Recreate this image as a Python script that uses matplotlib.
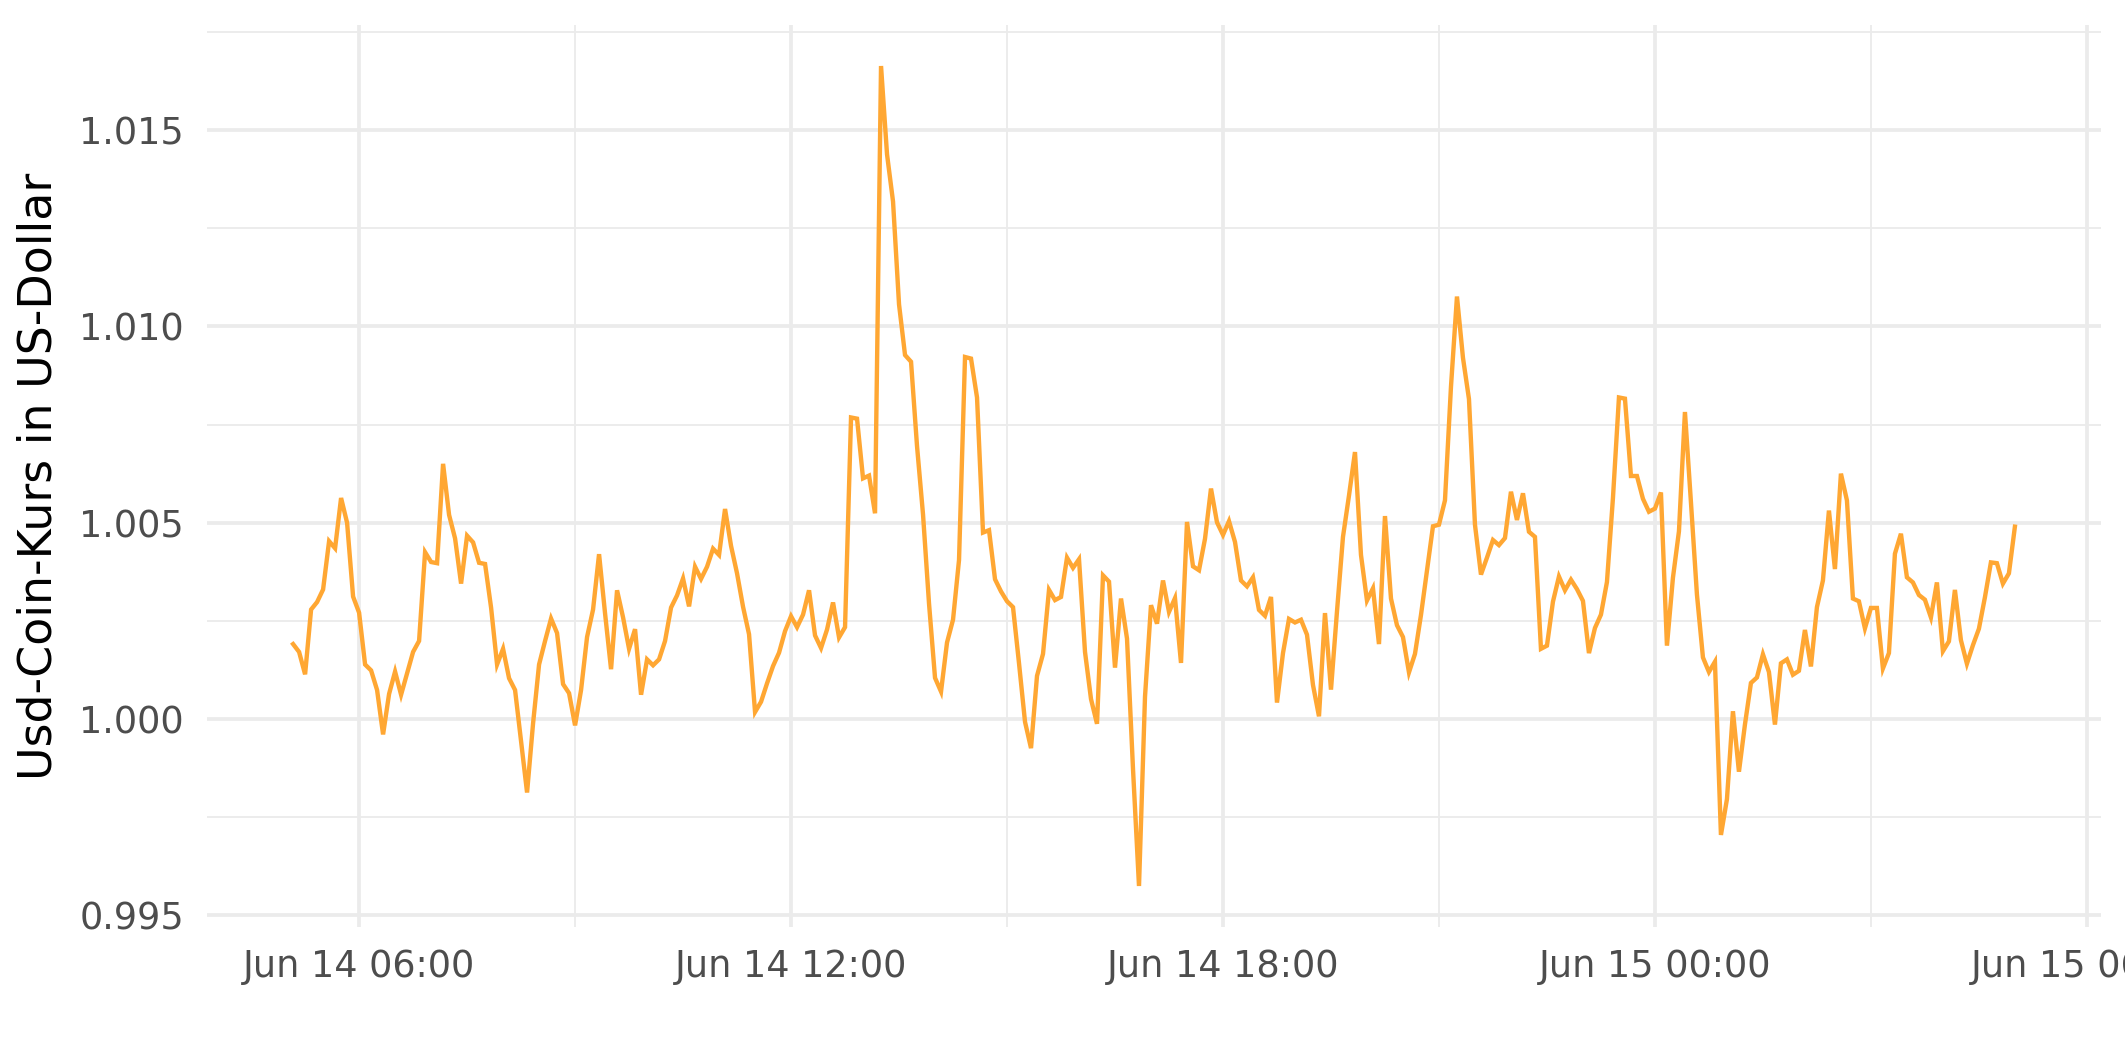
import pandas as pd
import matplotlib
matplotlib.use("Agg")
import matplotlib.pyplot as plt
import matplotlib.dates as mdates

# Zeitraum: 5-Minuten-Werte ab 14. Juni 05:05
start_zeit = "2022-06-14 05:05"
intervall = "5min"

# USD-Coin-Kurs in US-Dollar
usdc_kurs = [
    1.00191, 1.00171, 1.00114, 1.00279, 1.00298, 1.00330, 1.00453, 1.00435, 1.00563, 1.00500,
    1.00312, 1.00271, 1.00139, 1.00124, 1.00074, 0.99961, 1.00064, 1.00121, 1.00062, 1.00117,
    1.00171, 1.00199, 1.00425, 1.00400, 1.00397, 1.00650, 1.00520, 1.00460, 1.00345, 1.00467,
    1.00450, 1.00398, 1.00395, 1.00284, 1.00139, 1.00179, 1.00104, 1.00074, 0.99944, 0.99813,
    0.99989, 1.00139, 1.00199, 1.00256, 1.00219, 1.00089, 1.00066, 0.99984, 1.00074, 1.00209,
    1.00279, 1.00420, 1.00269, 1.00127, 1.00328, 1.00259, 1.00179, 1.00229, 1.00062, 1.00152,
    1.00137, 1.00152, 1.00199, 1.00284, 1.00315, 1.00358, 1.00287, 1.00388, 1.00357, 1.00388,
    1.00434, 1.00418, 1.00535, 1.00441, 1.00371, 1.00286, 1.00216, 1.00018, 1.00044, 1.00091,
    1.00135, 1.00169, 1.00224, 1.00262, 1.00234, 1.00266, 1.00328, 1.00213, 1.00181, 1.00228,
    1.00297, 1.00208, 1.00234, 1.00768, 1.00765, 1.00613, 1.00620, 1.00524, 1.01663, 1.01438,
    1.01318, 1.01056, 1.00927, 1.00910, 1.00695, 1.00521, 1.00294, 1.00105, 1.00070, 1.00195,
    1.00253, 1.00405, 1.00922, 1.00918, 1.00819, 1.00475, 1.00481, 1.00356, 1.00325, 1.00300,
    1.00285, 1.00142, 0.99993, 0.99926, 1.00110, 1.00166, 1.00329, 1.00303, 1.00311, 1.00411,
    1.00385, 1.00407, 1.00171, 1.00051, 0.99988, 1.00366, 1.00350, 1.00131, 1.00307, 1.00205,
    0.99873, 0.99575, 1.00057, 1.00290, 1.00243, 1.00353, 1.00273, 1.00308, 1.00143, 1.00502,
    1.00389, 1.00379, 1.00459, 1.00587, 1.00501, 1.00469, 1.00504, 1.00451, 1.00353, 1.00338,
    1.00361, 1.00278, 1.00263, 1.00311, 1.00042, 1.00168, 1.00255, 1.00246, 1.00253, 1.00215,
    1.00087, 1.00007, 1.00270, 1.00075, 1.00274, 1.00464, 1.00569, 1.00680, 1.00418, 1.00302,
    1.00333, 1.00191, 1.00517, 1.00307, 1.00239, 1.00209, 1.00119, 1.00166, 1.00265, 1.00378,
    1.00491, 1.00495, 1.00557, 1.00846, 1.01076, 1.00920, 1.00815, 1.00495, 1.00368, 1.00411,
    1.00456, 1.00443, 1.00461, 1.00579, 1.00507, 1.00575, 1.00477, 1.00464, 1.00179, 1.00187,
    1.00299, 1.00363, 1.00328, 1.00355, 1.00331, 1.00301, 1.00168, 1.00232, 1.00266, 1.00349,
    1.00563, 1.00819, 1.00816, 1.00619, 1.00619, 1.00561, 1.00528, 1.00536, 1.00577, 1.00187,
    1.00360, 1.00478, 1.00782, 1.00552, 1.00317, 1.00157, 1.00120, 1.00146, 0.99705, 0.99796,
    1.00020, 0.99866, 0.99986, 1.00092, 1.00106, 1.00165, 1.00120, 0.99986, 1.00142, 1.00152,
    1.00113, 1.00123, 1.00227, 1.00134, 1.00285, 1.00353, 1.00531, 1.00382, 1.00625, 1.00557,
    1.00307, 1.00300, 1.00231, 1.00283, 1.00283, 1.00129, 1.00168, 1.00421, 1.00472, 1.00361,
    1.00348, 1.00316, 1.00304, 1.00259, 1.00348, 1.00173, 1.00198, 1.00329, 1.00201, 1.00141,
    1.00188, 1.00230, 1.00310, 1.00399, 1.00397, 1.00345, 1.00371, 1.00490,
]

zeiten = pd.date_range(start_zeit, periods=len(usdc_kurs), freq=intervall)
df = pd.DataFrame({"zeit": zeiten, "kurs": usdc_kurs})

plt.rcParams["font.family"] = ["DejaVu Sans"]

fig = plt.figure(figsize=(2125 / 300, 1062 / 300), dpi=300)
ax = fig.add_axes([207 / 2125, 1 - 927 / 1062, (2101 - 207) / 2125, (927 - 25) / 1062])

ax.plot(df["zeit"], df["kurs"], color="#FFA733", linewidth=1.05, solid_joinstyle="miter")

# Achsenbereich wie bei ggplot (5 % Rand)
x_rand = (df["zeit"].max() - df["zeit"].min()) * 0.05
ax.set_xlim(df["zeit"].min() - x_rand, df["zeit"].max() + x_rand)
y_rand = (df["kurs"].max() - df["kurs"].min()) * 0.05
ax.set_ylim(df["kurs"].min() - y_rand, df["kurs"].max() + y_rand)

ax.xaxis.set_major_locator(mdates.HourLocator(byhour=[0, 6, 12, 18]))
ax.xaxis.set_minor_locator(mdates.HourLocator(byhour=[3, 9, 15, 21]))
ax.xaxis.set_major_formatter(mdates.DateFormatter("%b %d %H:%M"))
ax.set_yticks([0.995, 1.000, 1.005, 1.010, 1.015])
ax.set_yticks([0.9975, 1.0025, 1.0075, 1.0125, 1.0175], minor=True)
ax.yaxis.set_major_formatter(plt.FuncFormatter(lambda v, p: f"{v:.3f}"))

ax.grid(which="major", color="#EBEBEB", linewidth=0.9)
ax.grid(which="minor", color="#EBEBEB", linewidth=0.45)
ax.set_axisbelow(True)

for s in ax.spines.values():
    s.set_visible(False)
ax.tick_params(which="both", length=0)
ax.tick_params(axis="x", labelsize=8.8, labelcolor="#4D4D4D", pad=5)
ax.tick_params(axis="y", labelsize=8.8, labelcolor="#4D4D4D", pad=5.5)

ax.set_xlabel("")
ax.set_ylabel("Usd-Coin-Kurs in US-Dollar", fontsize=11, color="black")
ax.yaxis.set_label_coords(-0.077, 0.5)

fig.savefig("out.png", dpi=300, facecolor="white")
